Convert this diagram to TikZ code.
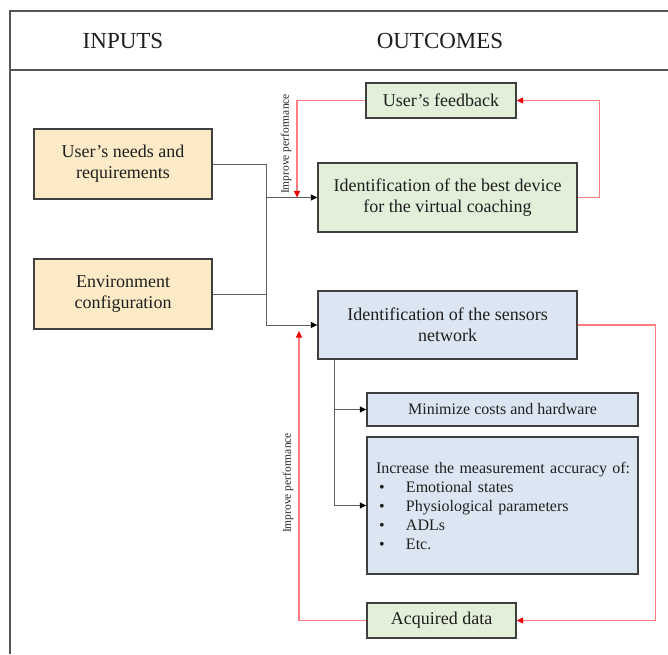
\documentclass[tikz,border=0pt]{standalone}
\usepackage{fontspec}
\setmainfont{Liberation Serif}
\usetikzlibrary{arrows.meta,positioning,calc}
\definecolor{inputbg}{HTML}{FCEBC6}
\definecolor{devicebg}{HTML}{E2EFD9}
\definecolor{sensorbg}{HTML}{DCE6F2}
\definecolor{boxborder}{HTML}{3F3F3F}
\definecolor{linkgray}{HTML}{5F5F5F}
\definecolor{loopred}{HTML}{FF7C80}
\definecolor{tipred}{HTML}{F00000}
\definecolor{framegray}{HTML}{555555}

\begin{document}
\begin{tikzpicture}[
    x=1pt, y=-1pt,
    box/.style={
        rectangle, draw=boxborder, line width=1.4pt,
        align=center, inner sep=2pt,
        font=\fontsize{18pt}{21pt}\selectfont, text=black!88
    },
    smallbox/.style={
        box, font=\fontsize{16pt}{19pt}\selectfont
    },
    heading/.style={
        font=\fontsize{23pt}{27pt}\selectfont, text=black!88
    },
    note/.style={
        rotate=90, font=\fontsize{11.5pt}{13pt}\selectfont, text=black!85
    },
    frame/.style={draw=framegray, line width=2pt},
    link/.style={draw=linkgray, line width=1pt},
    flow/.style={
        link, -{Triangle[length=6.5pt, width=6pt, color=black]}
    },
    loop/.style={
        draw=loopred, line width=1.2pt,
        -{Triangle[length=6.5pt, width=6pt, color=tipred]}
    }
]

\useasboundingbox (0,0) rectangle (668,654);

% ==================== FRAME AND HEADINGS ====================
\draw[frame] (668,11) -- (10,11) -- (10,654);
\draw[frame] (10,70) -- (668,70);

\node[heading] (inhead)  at (123,41) {INPUTS};
\node[heading] (outhead) at (440,41) {OUTCOMES};

% ==================== INPUTS ====================
\node[box, fill=inputbg, minimum width=178pt, minimum height=70pt] (needs) at (123,164) {User’s needs and\\requirements};
\node[box, fill=inputbg, minimum width=178pt, minimum height=70pt] (env)   at (123,294) {Environment\\configuration};

% ==================== OUTCOMES ====================
\node[box, fill=devicebg, minimum width=150pt, minimum height=35pt] (feedback) at (441,100.5) {User’s feedback};
\node[box, fill=devicebg, minimum width=259pt, minimum height=69pt] (device)   at (447.5,197.5) {Identification of the best device\\for the virtual coaching};

\node[box, fill=sensorbg, minimum width=259pt, minimum height=68pt] (sensors) at (447.5,325) {Identification of the sensors\\network};

\node[smallbox, fill=sensorbg, minimum width=271pt, minimum height=33pt] (costs) at (502.5,409.5) {Minimize costs and hardware};
\node[smallbox, fill=sensorbg, minimum width=271pt, minimum height=137pt, text width=253pt, align=left] (accuracy) at (502.5,505.5) {
    \mbox{Increase the measurement accuracy of:}\\
    \hspace*{3pt}\makebox[27pt][l]{\textbullet}Emotional states\\
    \hspace*{3pt}\makebox[27pt][l]{\textbullet}Physiological parameters\\
    \hspace*{3pt}\makebox[27pt][l]{\textbullet}ADLs\\
    \hspace*{3pt}\makebox[27pt][l]{\textbullet}Etc.
};

\node[box, fill=devicebg, minimum width=149pt, minimum height=35pt] (acquired) at (441.5,620.5) {Acquired data};

% ==================== INPUT CONNECTORS ====================
\coordinate (busA) at (266,197.5);
\coordinate (busB) at (266,325);
\draw[link] (needs.east) -| (busB);
\draw[link] (env.east) -- (env.east -| busB);
\draw[flow] (busA) -- (device.west);
\draw[flow] (busB) -- (sensors.west);

% ==================== SENSOR BRANCHES ====================
\coordinate (branch) at ($(sensors.south west)+(17,0)$);
\draw[flow] (branch) |- (accuracy.west);
\draw[flow] (costs.west -| branch) -- (costs.west);

% ==================== FEEDBACK LOOPS ====================
\coordinate (retA) at (297,197.5);
\draw[loop] (device.east) -- ++(22,0) |- (feedback.east);
\draw[loop] (feedback.west) -| (retA);
\node[note] (noteA) at (286,144) {Improve performance};

\coordinate (retB) at (299,331);
\draw[loop] (sensors.east) -- ++(78,0) |- (acquired.east);
\draw[loop] (acquired.west) -| (retB);
\node[note] (noteB) at (288,483) {Improve performance};

\end{tikzpicture}
\end{document}
